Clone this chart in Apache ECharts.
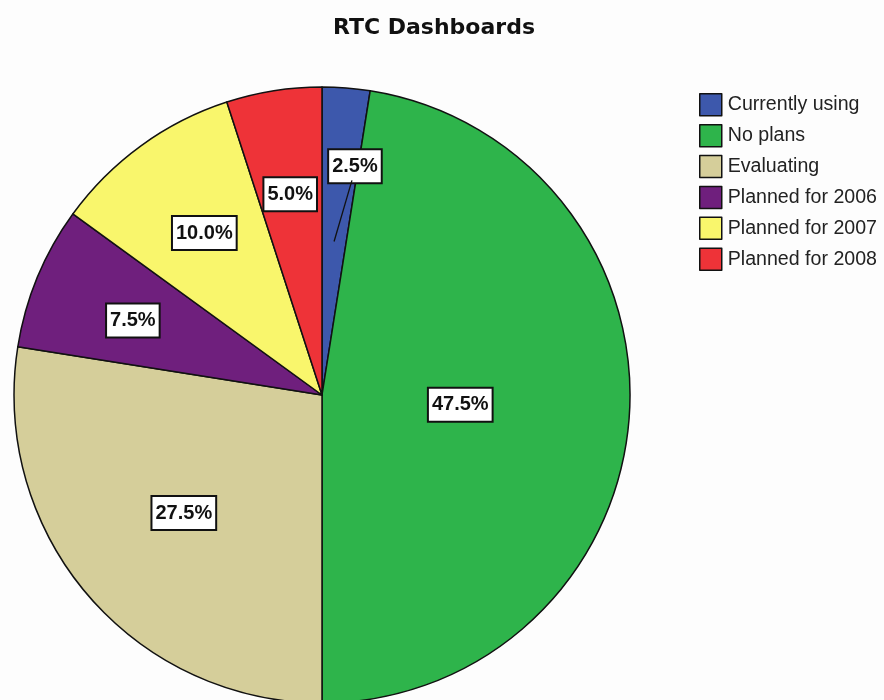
<!DOCTYPE html>
<html>
<head>
<meta charset="utf-8">
<script src="https://cdn.jsdelivr.net/npm/echarts@6/dist/echarts.min.js"></script>
<style>
  html, body { margin: 0; padding: 0; background: #fff; }
  #main { width: 884px; height: 700px; }
</style>
</head>
<body>
<div id="main"></div>
<script>
const categories = ['Currently using', 'No plans', 'Evaluating', 'Planned for 2006', 'Planned for 2007', 'Planned for 2008']
const percents = [2.5, 47.5, 27.5, 7.5, 10.0, 5.0]

const colors = ['#3d58ac', '#2eb44b', '#d5ce9a', '#6f1f7d', '#f9f66c', '#ee3338']
// how far out each label sits (share of radius), and an angle nudge in degrees
const labelRadius = [0.75, 0.45, 0.59, 0.66, 0.65, 0.66]
const labelNudge = [3.7, -0.5, 0, -1, 0, 0]

const cx = 322, cy = 395, R = 308

const total = percents.reduce((a, b) => a + b, 0)
function midAngle (i) {
  let before = 0
  for (let k = 0; k < i; k++) before += percents[k]
  return (before + percents[i] / 2) / total * 360
}
function polar (deg, dist) {
  const a = deg * Math.PI / 180
  return [cx + dist * Math.sin(a), cy - dist * Math.cos(a)]
}

// leader line for the thin first slice: from inside the slice up to its label
const tip = polar(midAngle(0), 0.5 * R)
const lblPos = polar(midAngle(0) + labelNudge[0], labelRadius[0] * R)

const chart = echarts.init(document.getElementById('main'))
chart.setOption({
  backgroundColor: '#fdfdfd',
  animation: false,
  title: {
    text: 'RTC Dashboards',
    left: 429,
    textAlign: 'center',
    top: 12,
    textStyle: { fontFamily: "'DejaVu Sans', sans-serif", fontSize: 22, fontWeight: 'bold', color: '#111' }
  },
  legend: {
    orient: 'vertical',
    left: 694,
    top: 88,
    itemWidth: 22,
    itemHeight: 22,
    itemGap: 7.4,
    icon: 'rect',
    itemStyle: { borderColor: '#111', borderWidth: 1.5 },
    textStyle: { fontFamily: "'Liberation Sans', Arial, sans-serif", fontSize: 19.6, color: '#222', padding: [0, 0, 0, 1] },
    data: categories
  },
  graphic: [{
    type: 'polyline',
    z: 5,
    shape: { points: [tip, [lblPos[0] - 3, lblPos[1] + 14]] },
    style: { stroke: '#111', lineWidth: 1.3, fill: null }
  }],
  series: [{
    type: 'pie',
    z: 2,
    center: [cx, cy],
    radius: R,
    startAngle: 90,
    clockwise: true,
    avoidLabelOverlap: false,
    itemStyle: { borderColor: '#111', borderWidth: 1.5 },
    label: {
      show: true,
      position: 'inside',
      formatter: p => p.value.toFixed(1) + '%',
      fontFamily: "'Liberation Sans', Arial, sans-serif",
      fontSize: 20,
      lineHeight: 23,
      fontWeight: 'bold',
      color: '#111',
      backgroundColor: '#fff',
      borderColor: '#111',
      borderWidth: 2,
      padding: [5, 3, 4, 3]
    },
    labelLine: { show: false },
    labelLayout: function (params) {
      const i = params.dataIndex
      const pos = polar(midAngle(i) + labelNudge[i], labelRadius[i] * R)
      return { x: pos[0], y: pos[1], align: 'center', verticalAlign: 'middle' }
    },
    data: categories.map((name, i) => ({
      name,
      value: percents[i],
      itemStyle: { color: colors[i] }
    }))
  }]
})
</script>
</body>
</html>
